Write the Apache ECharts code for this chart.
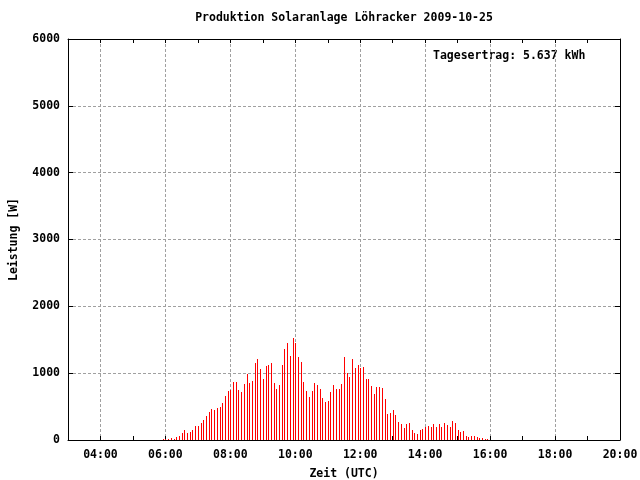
<!DOCTYPE html>
<html>
<head>
<meta charset="utf-8">
<script src="https://cdn.jsdelivr.net/npm/echarts@6/dist/echarts.min.js"></script>
<style>html,body{margin:0;padding:0;background:#fff}#c{width:640px;height:480px}</style>
</head>
<body>
<div id="c"></div>
<script>
const titleText = 'Produktion Solaranlage Löhracker 2009-10-25';
const yieldText = 'Tagesertrag: 5.637 kWh';
const xName = 'Zeit (UTC)';
const yName = 'Leistung [W]';

// 5-minute sample times (UTC)
const times = [
  '05:55',
  '06:00','06:05','06:10','06:15','06:20','06:25','06:30','06:35','06:40','06:45','06:50','06:55',
  '07:00','07:05','07:10','07:15','07:20','07:25','07:30','07:35','07:40','07:45','07:50','07:55',
  '08:00','08:05','08:10','08:15','08:20','08:25','08:30','08:35','08:40','08:45','08:50','08:55',
  '09:00','09:05','09:10','09:15','09:20','09:25','09:30','09:35','09:40','09:45','09:50','09:55',
  '10:00','10:05','10:10','10:15','10:20','10:25','10:30','10:35','10:40','10:45','10:50','10:55',
  '11:00','11:05','11:10','11:15','11:20','11:25','11:30','11:35','11:40','11:45','11:50','11:55',
  '12:00','12:05','12:10','12:15','12:20','12:25','12:30','12:35','12:40','12:45','12:50','12:55',
  '13:00','13:05','13:10','13:15','13:20','13:25','13:30','13:35','13:40','13:45','13:50','13:55',
  '14:00','14:05','14:10','14:15','14:20','14:25','14:30','14:35','14:40','14:45','14:50','14:55',
  '15:00','15:05','15:10','15:15','15:20','15:25','15:30','15:35','15:40','15:45','15:50','15:55'
];

// power in W
const power = [
  15,
  20,15,30,15,45,60,105,150,105,120,150,210,
  210,255,300,360,420,465,450,480,495,555,660,735,
  755,870,870,750,720,840,990,855,885,1150,1210,1060,
  915,1105,1120,1150,855,765,825,1120,1360,1450,1255,1525,
  1450,1240,1165,870,735,645,735,855,825,765,630,570,
  585,720,825,765,765,840,1240,1000,940,1210,1075,1120,
  1075,1090,915,915,810,690,795,795,780,615,390,405,
  450,375,270,240,180,240,255,150,105,90,150,165,
  195,210,195,240,195,240,195,255,225,195,285,255,
  150,120,135,60,45,60,60,45,30,30,15,15
];

const yTicks = [0, 1000, 2000, 3000, 4000, 5000, 6000];
const xMinHour = 3, xMaxHour = 20;

function toHour(s){ const p = s.split(':'); return +p[0] + (+p[1])/60; }
const seriesData = times.map((t, i) => [toHour(t), power[i]]);

const FONT = 'DejaVu Sans Mono';
const txt = {fontFamily: FONT, fontWeight: 'bold', fontSize: 11.5, color: '#000'};

function hourLabel(v){
  if (v % 2 !== 0 || v === xMinHour) return '';
  return (v < 10 ? '0' : '') + v + ':00';
}

const chart = echarts.init(document.getElementById('c'), null, {renderer: 'canvas'});
chart.setOption({
  animation: false,
  backgroundColor: '#fff',
  grid: {left: 68, right: 20, top: 39, bottom: 40, containLabel: false, outerBoundsMode: 'none'},
  graphic: [
    {type: 'text', x: 344, y: 18, style: {text: titleText, fill: '#000', font: 'bold 11.5px "DejaVu Sans Mono"', textAlign: 'center', textVerticalAlign: 'middle'}},
    {type: 'text', x: 433, y: 56, style: {text: yieldText, fill: '#000', font: 'bold 11.5px "DejaVu Sans Mono"', textAlign: 'left', textVerticalAlign: 'middle'}}
  ],
  xAxis: [
    {
      type: 'value', position: 'bottom', min: xMinHour, max: xMaxHour, interval: 1,
      axisLine: {show: true, onZero: false, lineStyle: {color: '#000', width: 1}},
      axisTick: {show: true, inside: true, length: 4, lineStyle: {color: '#000'}},
      axisLabel: Object.assign({formatter: hourLabel, margin: 9, showMinLabel: true, showMaxLabel: true}, txt),
      splitLine: {show: false},
      name: xName, nameLocation: 'middle', nameGap: 28, nameTextStyle: txt
    },
    {
      type: 'value', position: 'top', min: xMinHour, max: xMaxHour, interval: 1,
      axisLine: {show: true, onZero: false, lineStyle: {color: '#000', width: 1}},
      axisTick: {show: true, inside: true, length: 4, lineStyle: {color: '#000'}},
      axisLabel: {show: false},
      splitLine: {show: false}
    },
    {
      type: 'value', position: 'bottom', min: xMinHour, max: xMaxHour, splitNumber: 8,
      axisLine: {show: false, onZero: false},
      axisTick: {show: false},
      axisLabel: {show: false},
      splitLine: {show: true, showMinLine: false, showMaxLine: false, lineStyle: {color: '#a0a0a0', type: [3, 2], width: 1}}
    }
  ],
  yAxis: [
    {
      type: 'value', position: 'left', min: 0, max: 6000, interval: 1000,
      axisLine: {show: true, onZero: false, lineStyle: {color: '#000', width: 1}},
      axisTick: {show: true, inside: true, length: 5, lineStyle: {color: '#000'}},
      axisLabel: Object.assign({margin: 8, formatter: v => String(v)}, txt),
      splitLine: {show: true, showMinLine: false, showMaxLine: false, lineStyle: {color: '#a0a0a0', type: [3, 2], width: 1}},
      name: yName, nameLocation: 'middle', nameRotate: 90, nameGap: 48, nameTextStyle: txt
    },
    {
      type: 'value', position: 'right', min: 0, max: 6000, interval: 1000,
      axisLine: {show: true, onZero: false, lineStyle: {color: '#000', width: 1}},
      axisTick: {show: true, inside: true, length: 5, lineStyle: {color: '#000'}},
      axisLabel: {show: false},
      splitLine: {show: false}
    }
  ],
  series: [{
    type: 'custom',
    xAxisIndex: 0, yAxisIndex: 0,
    z: 5,
    data: seriesData,
    clip: true,
    renderItem: function(params, api){
      const top = api.coord([api.value(0), api.value(1)]);
      const base = api.coord([api.value(0), 0]);
      const x = Math.round(top[0]);
      return {
        type: 'rect',
        shape: {x: x, y: Math.round(top[1]), width: 1, height: Math.round(base[1]) - Math.round(top[1])},
        style: {fill: '#ff0000'}
      };
    }
  }]
});
</script>
</body>
</html>
